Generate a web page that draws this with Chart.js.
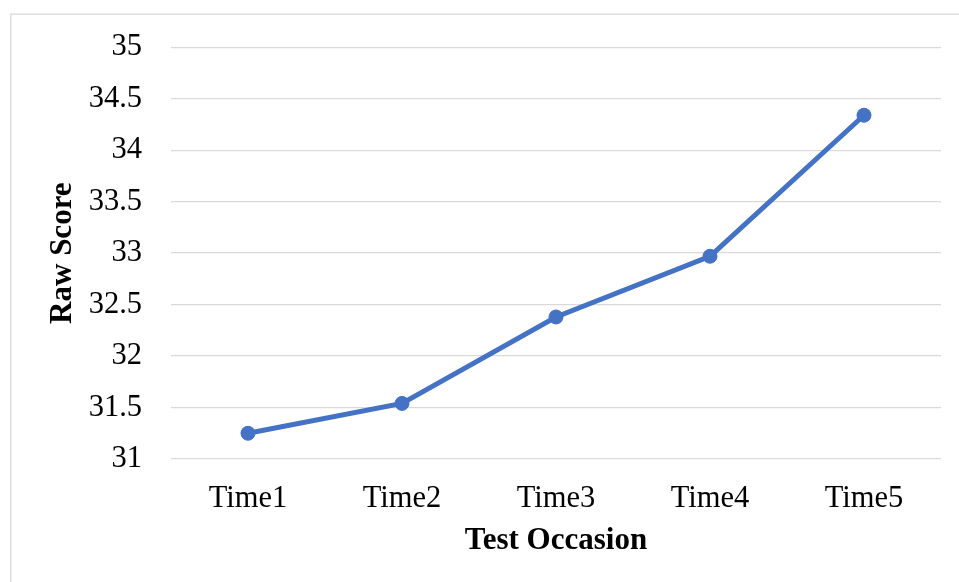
<!DOCTYPE html>
<html>
<head>
<meta charset="utf-8">
<title>Raw Score by Test Occasion</title>
<script src="https://cdn.jsdelivr.net/npm/chart.js@4/dist/chart.umd.min.js"></script>
<style>
  html, body { margin: 0; padding: 0; background: #ffffff; overflow: hidden; }
  #wrap { position: relative; width: 959px; height: 582px; }
  canvas { position: absolute; left: 0; top: 0; }
</style>
</head>
<body>
<div id="wrap"><canvas id="chart" width="959" height="582"></canvas></div>
<script>
// Mean raw score at each test occasion
const occasions = ['Time1', 'Time2', 'Time3', 'Time4', 'Time5'];
const rawScores = [31.25, 31.54, 32.38, 32.97, 34.34];
const yAxisMin = 31;
const yAxisMax = 35;
const yAxisStep = 0.5;

const serif = "'Liberation Serif', 'Times New Roman', serif";
const lineBlue = '#4472C4';
const gridGrey = '#d9d9d9';

// Light frame around the chart area, open to the right and bottom
const framePlugin = {
  id: 'frame',
  beforeDraw(chart) {
    const ctx = chart.ctx;
    ctx.save();
    ctx.strokeStyle = gridGrey;
    ctx.lineWidth = 1.3;
    ctx.beginPath();
    ctx.moveTo(10.8, chart.height + 2);
    ctx.lineTo(10.8, 14.2);
    ctx.lineTo(chart.width + 2, 14.2);
    ctx.stroke();
    ctx.restore();
  }
};

new Chart(document.getElementById('chart'), {
  type: 'line',
  data: {
    labels: occasions,
    datasets: [{
      label: 'Raw Score',
      data: rawScores,
      borderColor: lineBlue,
      backgroundColor: lineBlue,
      borderWidth: 5,
      pointRadius: 7,
      pointHoverRadius: 7,
      pointBorderWidth: 1,
      pointBackgroundColor: lineBlue,
      pointBorderColor: lineBlue,
      tension: 0,
      fill: false
    }]
  },
  options: {
    responsive: false,
    animation: false,
    devicePixelRatio: 1,
    layout: { padding: { top: 45, right: 18, bottom: 0, left: 0 } },
    plugins: {
      legend: { display: false },
      tooltip: { enabled: false }
    },
    scales: {
      x: {
        offset: true,
        grid: { display: false, drawTicks: false },
        border: { display: false },
        ticks: {
          color: '#000000',
          padding: 22,
          font: { family: serif, size: 30.5 }
        },
        title: {
          display: true,
          text: 'Test Occasion',
          color: '#000000',
          font: { family: serif, size: 31, weight: 'bold', lineHeight: 1.2 },
          padding: { top: 0, bottom: 22.5 }
        },
        afterFit(scale) { scale.height = 123; }
      },
      y: {
        min: yAxisMin,
        max: yAxisMax,
        grid: { color: gridGrey, lineWidth: 1.3, drawTicks: false },
        border: { display: false },
        ticks: {
          stepSize: yAxisStep,
          color: '#000000',
          padding: 29,
          font: { family: serif, size: 30.5 },
          callback: (value) => String(Number(value))
        },
        title: {
          display: true,
          text: 'Raw Score',
          color: '#000000',
          font: { family: serif, size: 31, weight: 'bold', lineHeight: 1.2 },
          padding: { top: 44.5, bottom: 0 }
        },
        afterFit(scale) { scale.width = 171; }
      }
    }
  },
  plugins: [framePlugin]
});
</script>
</body>
</html>
